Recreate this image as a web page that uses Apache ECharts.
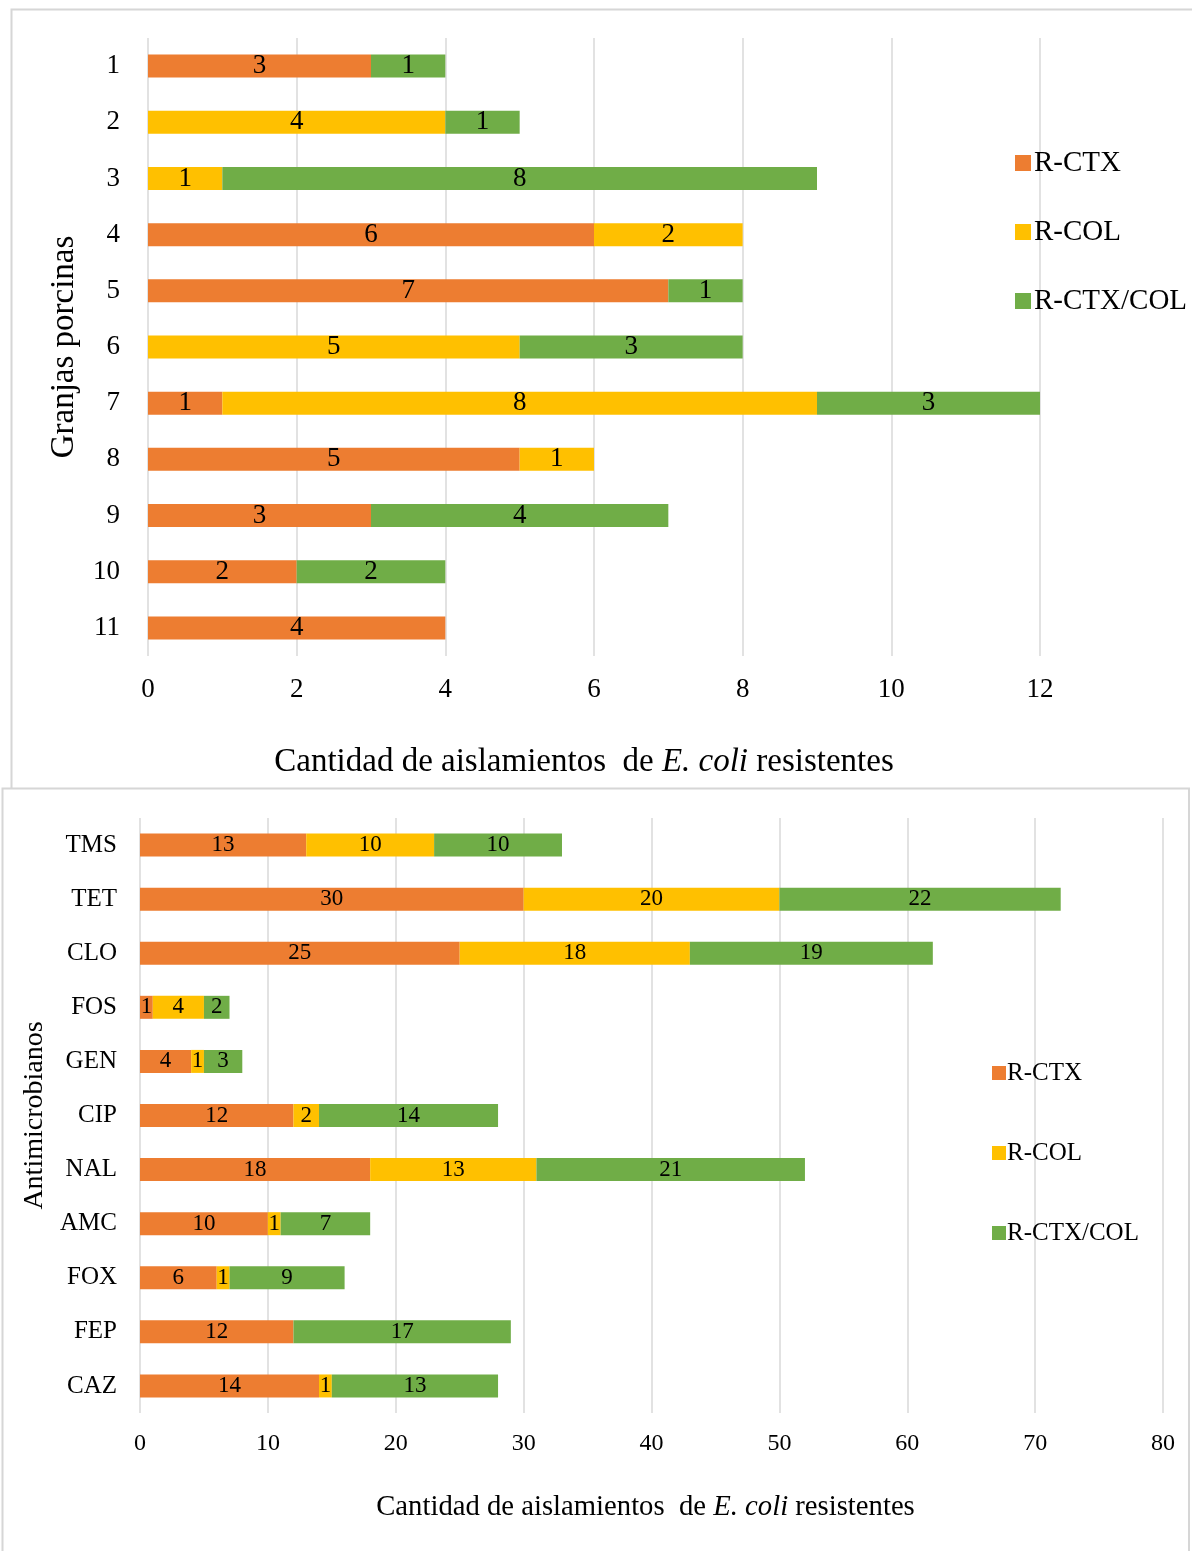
<!DOCTYPE html>
<html>
<head>
<meta charset="utf-8">
<script src="https://cdn.jsdelivr.net/npm/echarts@6/dist/echarts.min.js"></script>
<style>
html,body{margin:0;padding:0;background:#fff;}
#chart{width:1192px;height:1551px;}
</style>
</head>
<body>
<div id="chart"></div>
<script>
// ---- Data: top panel (pig farms) ----
const farms = ['1','2','3','4','5','6','7','8','9','10','11'];
const farmCTX    = [3, null, null, 6, 7, null, 1, 5, 3, 2, 4];
const farmCOL    = [null, 4, 1, 2, null, 5, 8, 1, null, null, null];
const farmCTXCOL = [1, 1, 8, null, 1, 3, 3, null, 4, 2, null];

// ---- Data: bottom panel (antimicrobials) ----
const drugs = ['TMS','TET','CLO','FOS','GEN','CIP','NAL','AMC','FOX','FEP','CAZ'];
const drugCTX    = [13, 30, 25, 1, 4, 12, 18, 10, 6, 12, 14];
const drugCOL    = [10, 20, 18, 4, 1, 2, 13, 1, 1, null, 1];
const drugCTXCOL = [10, 22, 19, 2, 3, 14, 21, 7, 9, 17, 13];

const seriesNames = ['R-CTX', 'R-COL', 'R-CTX/COL'];
const colors = ['#ED7D31', '#FFC000', '#70AD47'];

const FONT = 'Liberation Serif';
const grid = '#d9d9d9';

function barSeries(name, data, color, idx, fs, bw) {
  return {
    name: name, type: 'bar', stack: 's' + idx, data: data,
    xAxisIndex: idx, yAxisIndex: idx, barWidth: bw,
    itemStyle: { color: color },
    label: { show: true, position: 'inside', color: '#000', fontFamily: FONT, fontSize: fs },
    emphasis: { disabled: true }
  };
}

const chart = echarts.init(document.getElementById('chart'), null, { renderer: 'canvas' });
chart.setOption({
  animation: false,
  color: colors,
  textStyle: { fontFamily: FONT },
  graphic: [
    { type: 'polyline', shape: { points: [[1192, 9.5], [11.5, 9.5], [11.5, 788]] }, style: { stroke: '#d6d6d6', lineWidth: 2, fill: null } },
    { type: 'polyline', shape: { points: [[2.5, 1551], [2.5, 788.5], [1189, 788.5], [1189, 1551]] }, style: { stroke: '#d6d6d6', lineWidth: 2, fill: null } }
  ],
  grid: [
    { left: 148, right: 152, top: 38, height: 618 },
    { left: 140, right: 29, top: 818, height: 595 }
  ],
  legend: [
    {
      data: seriesNames, orient: 'vertical', left: 1010, top: 143,
      itemWidth: 16, itemHeight: 16, itemGap: 39, icon: 'rect', itemStyle: { borderWidth: 0 },
      textStyle: { fontFamily: FONT, fontSize: 29, lineHeight: 30, color: '#000', padding: [0, 0, 0, -2] },
      selectedMode: false
    },
    {
      data: seriesNames, orient: 'vertical', left: 987, top: 1055,
      itemWidth: 14, itemHeight: 14, itemGap: 54, icon: 'rect', itemStyle: { borderWidth: 0 },
      textStyle: { fontFamily: FONT, fontSize: 25, lineHeight: 26, color: '#000', padding: [0, 0, 0, -4] },
      selectedMode: false
    }
  ],
  xAxis: [
    {
      gridIndex: 0, type: 'value', min: 0, max: 12, interval: 2,
      axisLine: { show: false }, axisTick: { show: false },
      splitLine: { lineStyle: { color: grid, width: 1.5 } },
      axisLabel: { fontFamily: FONT, fontSize: 27, color: '#000', margin: 20 },
      name: 'Cantidad de aislamientos  de {i|E. coli} resistentes', nameLocation: 'middle', nameGap: 90,
      nameTextStyle: { fontFamily: FONT, fontSize: 33, color: '#000', padding: [0, 20, 0, 0],
        rich: { i: { fontFamily: FONT, fontSize: 33, fontStyle: 'italic', color: '#000' } } }
    },
    {
      gridIndex: 1, type: 'value', min: 0, max: 80, interval: 10,
      axisLine: { show: false }, axisTick: { show: false },
      splitLine: { lineStyle: { color: grid, width: 1.5 } },
      axisLabel: { fontFamily: FONT, fontSize: 24, color: '#000', margin: 19 },
      name: 'Cantidad de aislamientos  de {i|E. coli} resistentes', nameLocation: 'middle', nameGap: 80,
      nameTextStyle: { fontFamily: FONT, fontSize: 28.7, color: '#000', padding: [0, 12, 0, 0],
        rich: { i: { fontFamily: FONT, fontSize: 28.7, fontStyle: 'italic', color: '#000' } } }
    }
  ],
  yAxis: [
    {
      gridIndex: 0, type: 'category', data: farms, inverse: true,
      axisLine: { show: false }, axisTick: { show: false },
      axisLabel: { fontFamily: FONT, fontSize: 27, color: '#000', margin: 28 },
      name: 'Granjas porcinas', nameLocation: 'middle', nameRotate: 90, nameGap: 67,
      nameTextStyle: { fontFamily: FONT, fontSize: 33, color: '#000' }
    },
    {
      gridIndex: 1, type: 'category', data: drugs, inverse: true,
      axisLine: { show: false }, axisTick: { show: false },
      axisLabel: { fontFamily: FONT, fontSize: 25, color: '#000', margin: 23 },
      name: 'Antimicrobianos', nameLocation: 'middle', nameRotate: 90, nameGap: 91,
      nameTextStyle: { fontFamily: FONT, fontSize: 28, color: '#000' }
    }
  ],
  series: [
    barSeries(seriesNames[0], farmCTX, colors[0], 0, 27, 23),
    barSeries(seriesNames[1], farmCOL, colors[1], 0, 27, 23),
    barSeries(seriesNames[2], farmCTXCOL, colors[2], 0, 27, 23),
    barSeries(seriesNames[0], drugCTX, colors[0], 1, 23, 23),
    barSeries(seriesNames[1], drugCOL, colors[1], 1, 23, 23),
    barSeries(seriesNames[2], drugCTXCOL, colors[2], 1, 23, 23)
  ]
});
</script>
</body>
</html>
